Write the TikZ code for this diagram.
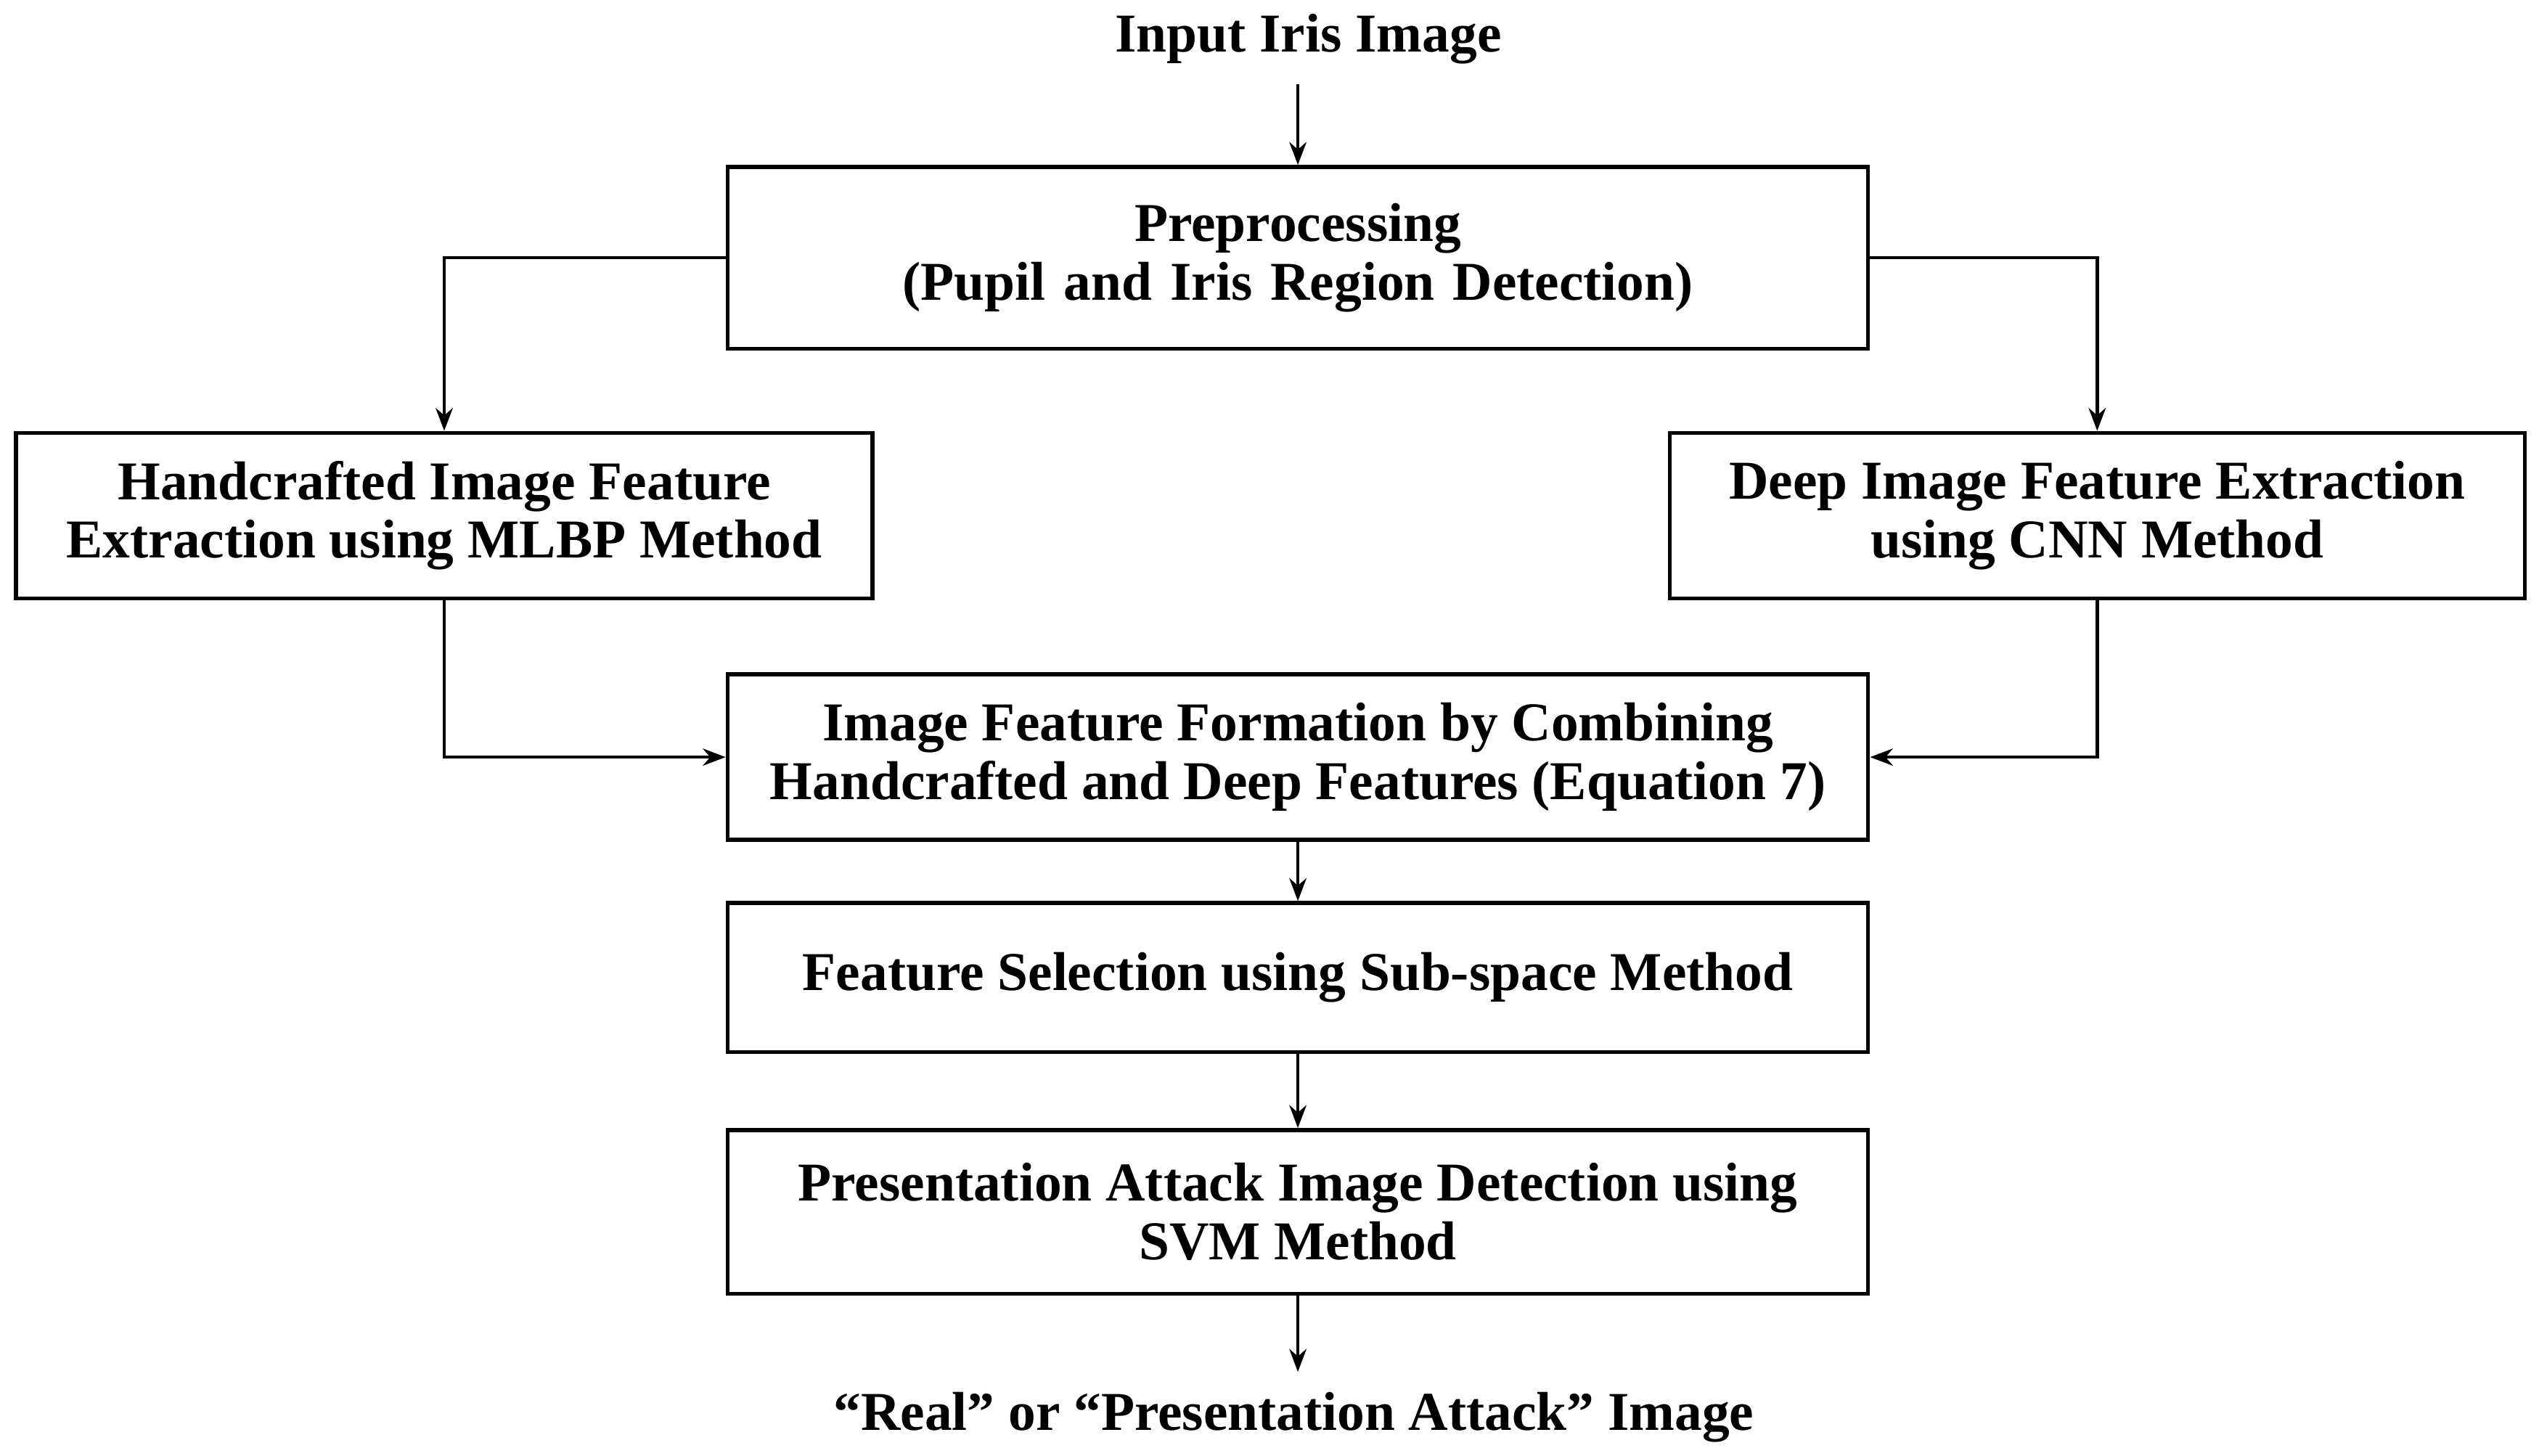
\documentclass[tikz,border=0pt]{standalone}
\usepackage{fontspec}
\setmainfont{Liberation Serif}
\usetikzlibrary{arrows.meta}
\begin{document}
\begin{tikzpicture}[x=0.01cm,y=-0.01cm,
  box/.style={draw,line width=0.7pt,inner sep=0pt,align=center,font=\fontsize{9.6}{10.3}\selectfont\bfseries},
  lbl/.style={align=center,font=\fontsize{9.6}{10.3}\selectfont\bfseries},
  arr/.style={line width=0.6pt,-{Stealth[length=4pt,width=3pt]}}]
\useasboundingbox (0,0) rectangle (1566,898);
\node[lbl] (in) at (807,24) {Input Iris Image};
\node[box,minimum width=703\pgflinewidth,text width=6.9cm,minimum width=7.03cm,minimum height=1.12cm] (pre) at (800.5,159) {Preprocessing\\(Pupil and Iris Region Detection)};
\node[box,minimum width=5.28cm,minimum height=1.02cm] (hc) at (274,318) {Handcrafted Image Feature\\Extraction using MLBP Method};
\node[box,minimum width=5.27cm,minimum height=1.02cm] (dp) at (1293.5,318) {Deep Image Feature Extraction\\using CNN Method};
\node[box,minimum width=7.03cm,minimum height=1.02cm] (cb) at (800.5,467) {Image Feature Formation by Combining\\Handcrafted and Deep Features (Equation 7)};
\node[box,minimum width=7.03cm,minimum height=0.92cm] (fs) at (800.5,603) {Feature Selection using Sub-space Method};
\node[box,minimum width=7.03cm,minimum height=1.01cm] (pad) at (800.5,747.5) {Presentation Attack Image Detection using\\SVM Method};
\node[lbl] (out) at (798,874) {“Real” or “Presentation Attack” Image};
\draw[arr] (in.south -| pre.north) -- (pre.north);
\draw[arr] (pre.west) -| (hc.north);
\draw[arr] (pre.east) -| (dp.north);
\draw[arr] (hc.south) |- (cb.west);
\draw[arr] (dp.south) |- (cb.east);
\draw[arr] (cb) -- (fs);
\draw[arr] (fs) -- (pad);
\draw[arr] (pad.south) -- (pad.south |- out.north);
\end{tikzpicture}
\end{document}
